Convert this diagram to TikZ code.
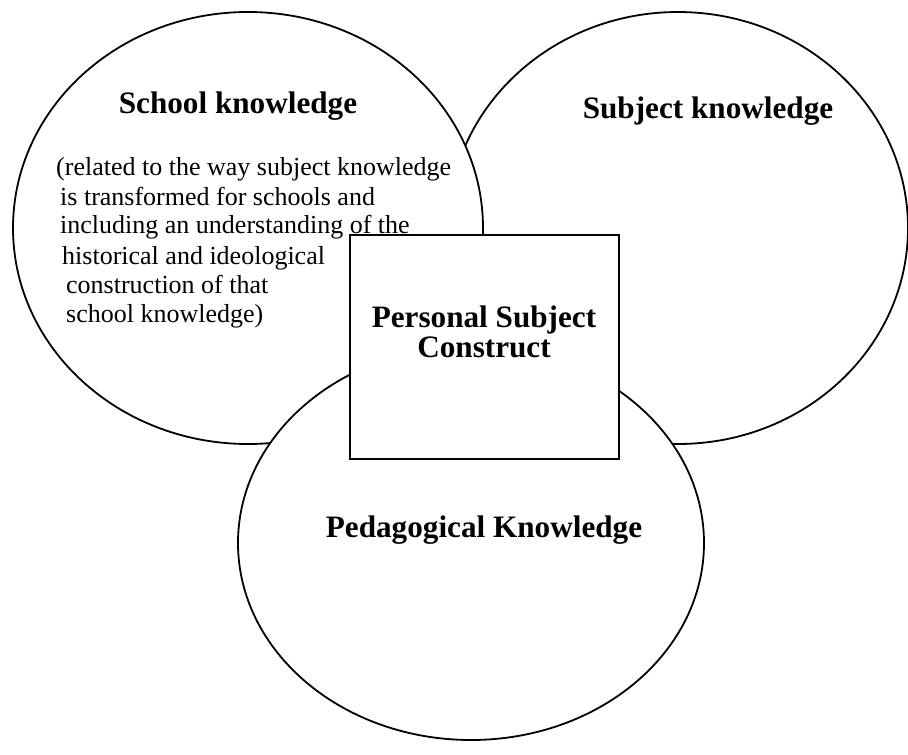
\documentclass[tikz,border=0pt]{standalone}
\usepackage{fontspec}
\setmainfont{Liberation Serif}
\begin{document}
\begin{tikzpicture}[x=1pt,y=-1pt,
  shapeline/.style={draw=black,line width=1.8pt,fill=white},
  headtxt/.style={font=\fontsize{31.2}{35}\selectfont\bfseries,inner sep=0pt,anchor=base},
  bodytxt/.style={font=\fontsize{26}{30}\selectfont,inner sep=0pt,anchor=base west}]
\useasboundingbox (0,0) rectangle (908,755);
\fill[white] (0,0) rectangle (908,755);
% ellipses
\draw[shapeline] (678,228) ellipse [x radius=230, y radius=216];
\draw[shapeline] (248,228) ellipse [x radius=235, y radius=216];
\draw[shapeline] (471,543) ellipse [x radius=233, y radius=197];
% central square
\node[shapeline,minimum width=269pt,minimum height=224pt,inner sep=0pt] (psc) at (484.5,347) {};
% texts
\node[headtxt] (school) at (238,113) {School knowledge};
\node[headtxt] (subject) at (708,118) {Subject knowledge};
\node[headtxt] (pscA) at (484,327) {Personal Subject};
\node[headtxt] (pscB) at (484,357) {Construct};
\node[headtxt] (ped) at (484,537) {Pedagogical Knowledge};
\node[bodytxt] (l1) at (56,175) {(related to the way subject knowledge};
\node[bodytxt] (l2) at (60,205) {is transformed for schools and};
\node[bodytxt] (l3) at (60,233) {including an understanding of the};
\node[bodytxt] (l4) at (62,264) {historical and ideological};
\node[bodytxt] (l5) at (66,293) {construction of that};
\node[bodytxt] (l6) at (66,322) {school knowledge)};
\end{tikzpicture}
\end{document}
